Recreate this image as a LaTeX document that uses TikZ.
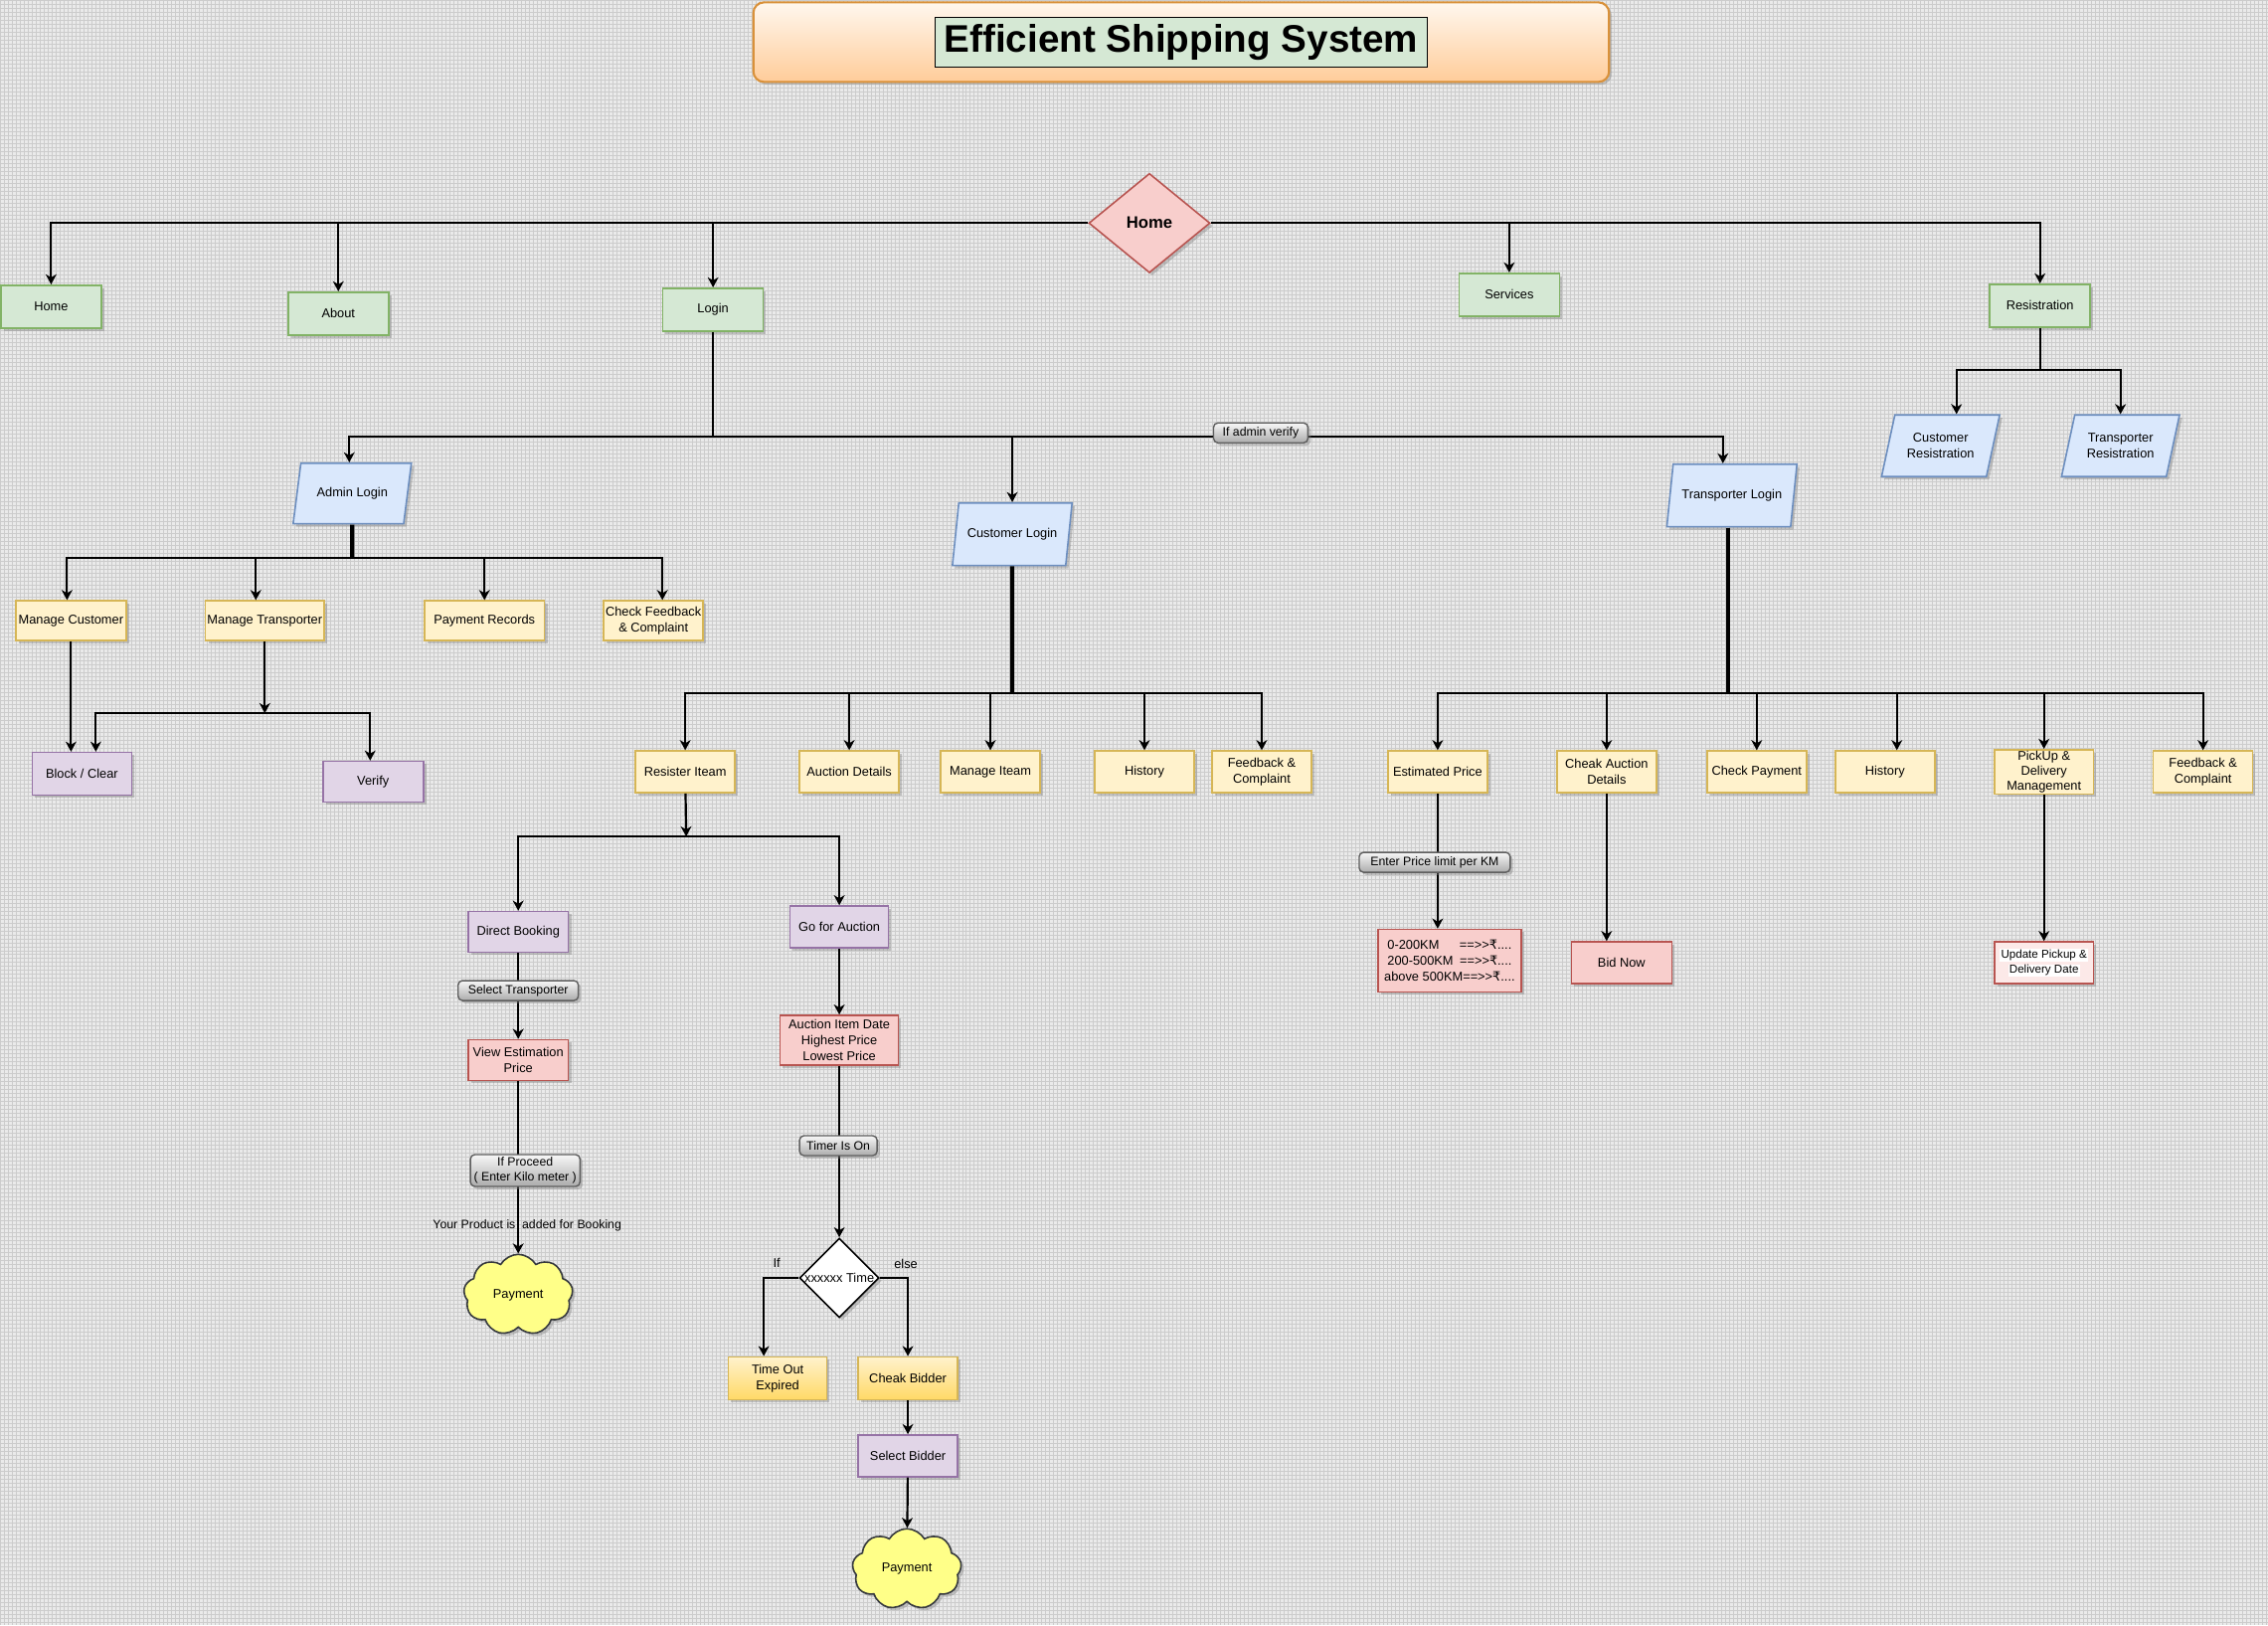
\documentclass[tikz,border=0pt]{standalone}
\usepackage{fontspec}
\setmainfont{Liberation Sans}
\newfontfamily\rupeefont{DejaVu Sans}
\usetikzlibrary{shapes.geometric,shapes.symbols,shadows,arrows.meta}

\definecolor{bggray}{RGB}{234,234,234}
\definecolor{bgline}{RGB}{204,204,204}
\definecolor{greenfill}{HTML}{D5E8D4}
\definecolor{greenline}{HTML}{82B366}
\definecolor{bluefill}{HTML}{DAE8FC}
\definecolor{blueline}{HTML}{6C8EBF}
\definecolor{yellowfill}{HTML}{FFF2CC}
\definecolor{yellowline}{HTML}{D6B656}
\definecolor{goldfill}{HTML}{FFD966}
\definecolor{purplefill}{HTML}{E1D5E7}
\definecolor{purpleline}{HTML}{9673A6}
\definecolor{redfill}{HTML}{F8CECC}
\definecolor{redline}{HTML}{B85450}
\definecolor{cloudfill}{HTML}{FFFF88}
\definecolor{cloudline}{HTML}{36393D}
\definecolor{titletop}{HTML}{FFF7EE}
\definecolor{titlebot}{HTML}{FFCC99}
\definecolor{titleline}{HTML}{D9913A}
\definecolor{tagtop}{HTML}{F7F7F7}
\definecolor{tagbot}{HTML}{ABABAB}
\definecolor{tagline}{HTML}{5F5F5F}

\newcommand{\rs}{{\rupeefont ₹}}
\newcommand{\wbg}[1]{{\setlength{\fboxsep}{0.6pt}\colorbox{white}{#1}}}

\tikzset{
	shade/.style={drop shadow={shadow xshift=1.6pt,shadow yshift=-1.6pt,opacity=0.4}},
	box/.style={draw, line width=0.9pt, align=center, inner sep=1pt,
		minimum width=2cm, minimum height=0.84cm,
		font=\fontsize{7.3}{9}\selectfont, shade},
	menubox/.style={box, fill=greenfill, draw=greenline, minimum width=2.02cm, minimum height=0.86cm},
	itembox/.style={box, fill=yellowfill, draw=yellowline},
	actbox/.style={box, fill=purplefill, draw=purpleline},
	infobox/.style={box, fill=redfill, draw=redline},
	goldbox/.style={box, top color=yellowfill, bottom color=goldfill, draw=yellowline, minimum height=0.86cm},
	loginbox/.style={trapezium, trapezium left angle=70, trapezium right angle=110,
		trapezium stretches=true, draw=blueline, fill=bluefill, line width=0.9pt,
		align=center, inner sep=1pt, minimum width=2.38cm, minimum height=1.24cm,
		font=\fontsize{7.3}{9}\selectfont, shade},
	paycloud/.style={cloud, cloud puffs=9, cloud puff arc=120, draw=cloudline, fill=cloudfill,
		line width=0.9pt, minimum width=2.2cm, minimum height=1.4cm, inner sep=0pt,
		font=\fontsize{7.3}{9}\selectfont, shade},
	tag/.style={draw=tagline, line width=0.8pt, rounded corners=2.5pt, top color=tagtop,
		bottom color=tagbot, align=center, inner xsep=2pt, inner ysep=1pt,
		minimum height=0.4cm, font=\fontsize{7}{8.4}\selectfont, shade},
	conn/.style={draw, line width=1.25pt, -{Stealth[length=5.8pt,width=6.2pt,inset=1.8pt]}},
	wire/.style={draw, line width=1.25pt},
	trunk/.style={draw, line width=2.4pt},
}

\begin{document}
\begin{tikzpicture}[x=0.02cm, y=-0.02cm]
	\fill[bggray] (0,0) rectangle (2281,1634);
	\draw[bgline, line width=0.45pt, step=0.08cm] (0,0) grid (2281,1634);
	\useasboundingbox (0,0) rectangle (2281,1634);

	% title
	\node[draw=titleline, line width=1.2pt, rounded corners=6pt, top color=titletop,
		bottom color=titlebot, minimum width=17.22cm, minimum height=1.6cm, shade]
		(titlebar) at (1188,42) {};
	\node[draw, fill=greenfill, line width=0.8pt, minimum width=9.9cm, minimum height=1cm,
		inner sep=0pt, font=\fontsize{22}{26}\selectfont\bfseries]
		(titletext) at (1188,42) {Efficient Shipping System};

	% top menu
	\node[diamond, draw=redline, fill=redfill, line width=0.9pt, inner sep=0pt,
		minimum width=2.44cm, minimum height=2cm, font=\fontsize{9.5}{11}\selectfont\bfseries, shade]
		(homed) at (1156,224) {Home};
	\node[menubox] (navhome) at (51,308) {Home};
	\node[menubox] (about) at (340,315) {About};
	\node[menubox] (login) at (717,311) {Login};
	\node[menubox] (services) at (1518,296) {Services};
	\node[menubox] (regist) at (2052,307) {Resistration};
	\node[loginbox] (custreg) at (1952,448) {Customer\\Resistration};
	\node[loginbox] (transreg) at (2133,448) {Transporter\\Resistration};

	% logins
	\node[loginbox, minimum height=1.22cm] (adminlogin) at (354,496) {Admin Login};
	\node[loginbox, minimum width=2.42cm, minimum height=1.26cm] (custlogin) at (1018,537) {Customer Login};
	\node[loginbox, minimum width=2.62cm, minimum height=1.26cm] (translogin) at (1742,498) {Transporter Login};

	% admin
	\node[itembox, minimum width=2.22cm, minimum height=0.8cm] (mcust) at (71,624) {Manage Customer};
	\node[itembox, minimum width=2.38cm, minimum height=0.8cm] (mtrans) at (266,624) {Manage Transporter};
	\node[itembox, minimum width=2.42cm, minimum height=0.8cm] (payrec) at (487,624) {Payment Records};
	\node[itembox, minimum height=0.8cm] (checkfb) at (657,624) {Check Feedback\\\& Complaint};
	\node[actbox, minimum height=0.86cm] (blockclear) at (82,778) {Block / Clear};
	\node[actbox, minimum width=2.02cm, minimum height=0.82cm] (verify) at (375,786) {Verify};

	% customer
	\node[itembox] (resitem) at (689,776) {Resister Iteam};
	\node[itembox] (aucdet) at (854,776) {Auction Details};
	\node[itembox] (manitem) at (996,776) {Manage Iteam};
	\node[itembox] (chist) at (1151,776) {History};
	\node[itembox] (cfb) at (1269,776) {Feedback \&\\Complaint};

	% transporter
	\node[itembox] (estprice) at (1446,776) {Estimated Price};
	\node[itembox] (cheakauc) at (1616,776) {Cheak Auction\\Details};
	\node[itembox] (checkpay) at (1767,776) {Check Payment};
	\node[itembox] (thist) at (1896,776) {History};
	\node[itembox, font=\fontsize{7.3}{8.3}\selectfont] (pickup) at (2056,776) {PickUp \&\\Delivery\\Management};
	\node[itembox] (tfb) at (2216,776) {Feedback \&\\Complaint};
	\node[infobox, minimum width=2.88cm, minimum height=1.26cm] (pricebox) at (1458,966)
		{0-200KM\hspace{1.6em}==>{}>\rs....\\200-500KM\hspace{0.5em}==>{}>\rs....\\above 500KM==>{}>\rs....};
	\node[infobox, minimum width=2.02cm] (bidnow) at (1631,968) {Bid Now};
	\node[infobox, fill=redfill!45, font=\fontsize{6.6}{9}\selectfont] (update) at (2056,968)
		{\wbg{Update Pickup \&}\\\wbg{Delivery Date}};

	% booking and auction
	\node[actbox, minimum width=2.02cm, minimum height=0.82cm] (dbook) at (521,937) {Direct Booking};
	\node[actbox, minimum width=1.98cm] (goauc) at (844,932) {Go for Auction};
	\node[infobox, minimum width=2.02cm, minimum height=0.82cm] (viewest) at (521,1066) {View Estimation\\Price};
	\node[paycloud] (pay1) at (521,1302) {Payment};
	\node[infobox, minimum width=2.38cm, minimum height=1cm] (aucinfo) at (844,1046)
		{Auction Item Date\\Highest Price\\Lowest Price};
	\node[diamond, draw, fill=white, line width=0.9pt, inner sep=0pt, minimum width=1.6cm,
		minimum height=1.6cm, font=\fontsize{7.3}{9}\selectfont, shade]
		(timer) at (844,1285) {\makebox[0pt]{xxxxxx Time}};
	\node[goldbox, minimum width=1.98cm] (timeout) at (782,1386) {Time Out\\Expired};
	\node[goldbox] (cheakbid) at (913,1386) {Cheak Bidder};
	\node[actbox] (selbid) at (913,1464) {Select Bidder};
	\node[paycloud] (pay2) at (912,1578) {Payment};

	% connectors
	\draw[conn] (homed.west) -| (navhome);
	\draw[conn] (homed.west) -| (about);
	\draw[conn] (homed.west) -| (login);
	\draw[conn] (homed.east) -| (services);
	\draw[conn] (homed.east) -| (regist);

	\coordinate (regbus) at (2052,372);
	\draw[wire] (regist) -- (regbus);
	\draw[conn] (regbus) -| (1968,0 |- custreg.north);
	\draw[conn] (regbus) -| (transreg);

	\coordinate (logbus) at (717,439);
	\draw[wire] (login) -- (logbus);
	\draw[conn] (logbus) -| (351,0 |- adminlogin.north);
	\draw[conn] (logbus) -| (custlogin);
	\draw[conn] (logbus) -| (1733,0 |- translogin.north);

	\coordinate (admbus) at (354,561);
	\draw[trunk] (adminlogin) -- (admbus);
	\draw[conn] (admbus) -| (67,0 |- mcust.north);
	\draw[conn] (admbus) -| (257,0 |- mtrans.north);
	\draw[conn] (admbus) -| (payrec);
	\draw[conn] (admbus) -| (666,0 |- checkfb.north);
	\draw[conn] (mcust) -- (mcust |- blockclear.north);
	\coordinate (mtj) at (266,717);
	\draw[conn] (mtrans) -- (mtj);
	\draw[conn] (mtj) -| (96,0 |- blockclear.north);
	\draw[conn] (mtj) -| (372,0 |- verify.north);

	\coordinate (cusbus) at (1018,697);
	\draw[trunk] (custlogin) -- (cusbus);
	\foreach \n in {resitem,aucdet,manitem,chist,cfb}
		\draw[conn] (cusbus) -| (\n);

	\coordinate (trbus) at (1738,697);
	\draw[trunk] (1738,0 |- translogin.south) -- (trbus);
	\foreach \n in {estprice,cheakauc,checkpay,pickup,tfb}
		\draw[conn] (trbus) -| (\n);
	\draw[conn] (trbus) -| (1908,0 |- thist.north);
	\draw[conn] (estprice) -- (estprice |- pricebox.north);
	\draw[conn] (cheakauc) -- (cheakauc |- bidnow.north);
	\draw[conn] (pickup) -- (update);

	\coordinate (resj) at (690,841);
	\draw[conn] (resitem) -- (resj);
	\draw[conn] (resj) -| (dbook);
	\draw[conn] (resj) -| (goauc);
	\draw[conn] (dbook) -- (viewest);
	\draw[conn] (viewest) -- (pay1);
	\draw[conn] (goauc) -- (aucinfo);
	\draw[conn] (aucinfo) -- (timer);
	\draw[conn] (timer.west) -| (768,0 |- timeout.north);
	\draw[conn] (timer.east) -| (cheakbid);
	\draw[conn] (cheakbid) -- (selbid);
	\draw[conn] (selbid) -- (pay2);

	% labels on the lines
	\node[tag, minimum width=1.9cm] (verifytag) at (1268,435) {If admin verify};
	\node[tag, minimum width=3.04cm] (pricetag) at (1443,867) {Enter Price limit per KM};
	\node[tag, minimum width=2.42cm] (seltag) at (521,996) {Select Transporter};
	\node[tag, minimum width=2.18cm, minimum height=0.64cm] (proceedtag) at (528,1177)
		{If Proceed\\( Enter Kilo meter )};
	\node[tag, minimum width=1.56cm] (timertag) at (843,1152) {Timer Is On};
	\node[font=\fontsize{7}{8.4}\selectfont, inner sep=0pt] (addedtxt) at (530,1232)
		{Your Product is\hspace{0.55em}added for Booking};
	\node[font=\fontsize{7.3}{9}\selectfont, inner sep=0pt] (iftxt) at (781,1270) {If};
	\node[font=\fontsize{7.3}{9}\selectfont, inner sep=0pt] (elsetxt) at (911,1271) {else};
\end{tikzpicture}
\end{document}
